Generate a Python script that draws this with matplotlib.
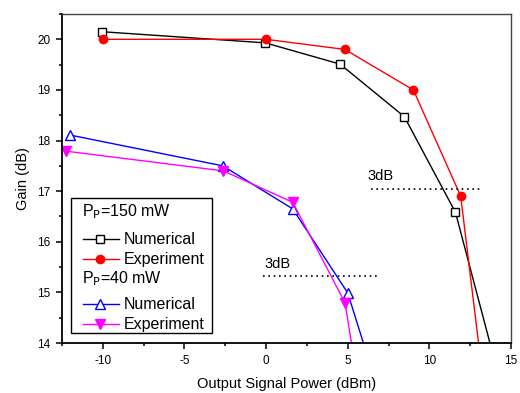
import matplotlib
matplotlib.use("Agg")
import matplotlib.pyplot as plt
from matplotlib.lines import Line2D
from matplotlib.patches import Rectangle
from matplotlib.ticker import MultipleLocator

plt.rcParams['font.family'] = ['Liberation Sans', 'DejaVu Sans']
plt.rcParams['axes.unicode_minus'] = False

# Data
num150_x = [-10.05, -0.05, 4.53, 8.47, 11.6, 14.2]
num150_y = [20.15, 19.93, 19.51, 18.47, 16.58, 13.4]
exp150_x = [-10.0, 0.0, 4.82, 9.02, 11.92, 13.2]
exp150_y = [20.0, 20.0, 19.80, 19.0, 16.90, 13.5]
num40_x = [-12.03, -2.65, 1.63, 5.0, 6.3]
num40_y = [18.11, 17.50, 16.65, 14.99, 13.65]
exp40_x = [-12.25, -2.61, 1.63, 4.84, 5.35]
exp40_y = [17.79, 17.40, 16.78, 14.79, 13.75]

db3_upper_x = [6.43, 13.22]
db3_upper_y = 17.04
db3_lower_x = [-0.17, 6.98]
db3_lower_y = 15.32

styles = {
    'num150': dict(color='black', marker='s', ms=5.3, mfc='white', mec='black'),
    'exp150': dict(color='red', marker='o', ms=6, mfc='red', mec='red'),
    'num40': dict(color='blue', marker='^', ms=6.8, mfc='white', mec='blue'),
    'exp40': dict(color='magenta', marker='v', ms=7, mfc='magenta', mec='magenta'),
}

fig = plt.figure(figsize=(5.2, 3.93), dpi=100)
ax = fig.add_axes([0.1192, 0.1272, 0.8635, 0.8372])

for key, xs, ys in [('num150', num150_x, num150_y), ('exp150', exp150_x, exp150_y),
                    ('num40', num40_x, num40_y), ('exp40', exp40_x, exp40_y)]:
    st = styles[key]
    ax.plot(xs, ys, color=st['color'], lw=1, marker=st['marker'], ms=st['ms'],
            mfc=st['mfc'], mec=st['mec'], mew=1)

ax.plot(db3_upper_x, [db3_upper_y] * 2, color='black', lw=1.2, ls=(0, (1, 2.2)))
ax.plot(db3_lower_x, [db3_lower_y] * 2, color='black', lw=1.2, ls=(0, (1, 2.2)))
ax.text(6.2, 17.17, '3dB', fontsize=10.5, ha='left', va='bottom')
ax.text(-0.1, 15.43, '3dB', fontsize=10.5, ha='left', va='bottom')

ax.set_xlim(-12.5, 15)
ax.set_ylim(14, 20.5)
ax.xaxis.set_major_locator(MultipleLocator(5))
ax.xaxis.set_minor_locator(MultipleLocator(2.5))
ax.yaxis.set_major_locator(MultipleLocator(1))
ax.yaxis.set_minor_locator(MultipleLocator(0.5))
ax.tick_params(which='both', direction='out', top=False, right=False, labelsize=8.5)
ax.tick_params(which='major', length=4.5, width=1.1, pad=4)
ax.tick_params(which='minor', length=2.4, width=1.1)
for name, s in ax.spines.items():
    s.set_linewidth(1.3 if name in ('left', 'bottom') else 1.0)
    if name in ('top', 'right'):
        s.set_edgecolor('#444444')
ax.set_xlabel('Output Signal Power (dBm)', fontsize=10.5, labelpad=7)
ax.set_ylabel('Gain (dB)', fontsize=10.5, labelpad=5)

# Legend drawn manually (pixel -> axes fraction)
def px(x, y):
    ax_l, ax_r, ax_t, ax_b = 62.0, 511.0, 14.0, 343.0
    return ((x - ax_l) / (ax_r - ax_l), (ax_b - y) / (ax_b - ax_t))

x0, y0 = px(71, 333)
x1, y1 = px(212, 198)
ax.add_patch(Rectangle((x0, y0), x1 - x0, y1 - y0, transform=ax.transAxes,
                       fill=True, fc='white', ec='black', lw=1, zorder=5))

rows = [
    ('header', 'P$_\\mathrm{P}$=150 mW', 212, None),
    ('entry', 'Numerical', 239, 'num150'),
    ('entry', 'Experiment', 259, 'exp150'),
    ('header', 'P$_\\mathrm{P}$=40 mW', 279, None),
    ('entry', 'Numerical', 304, 'num40'),
    ('entry', 'Experiment', 324, 'exp40'),
]
for kind, label, ypx, key in rows:
    if kind == 'header':
        tx, ty = px(82.5, ypx)
        ax.text(tx, ty, label, transform=ax.transAxes, fontsize=11.5,
                ha='left', va='center', zorder=6)
    else:
        st = styles[key]
        la, ly = px(82.7, ypx)
        lb, _ = px(119, ypx)
        lm, _ = px(100.5, ypx)
        ax.add_line(Line2D([la, lb], [ly, ly], transform=ax.transAxes,
                           color=st['color'], lw=1, zorder=6))
        ax.add_line(Line2D([lm], [ly], transform=ax.transAxes, color=st['color'],
                           marker=st['marker'], ms=st['ms'], mfc=st['mfc'],
                           mec=st['mec'], mew=1, lw=0, zorder=7))
        tx, _ = px(124, ypx)
        ax.text(tx, ly, label, transform=ax.transAxes, fontsize=11.5,
                ha='left', va='center', zorder=6)

fig.savefig('out.png', dpi=100)
